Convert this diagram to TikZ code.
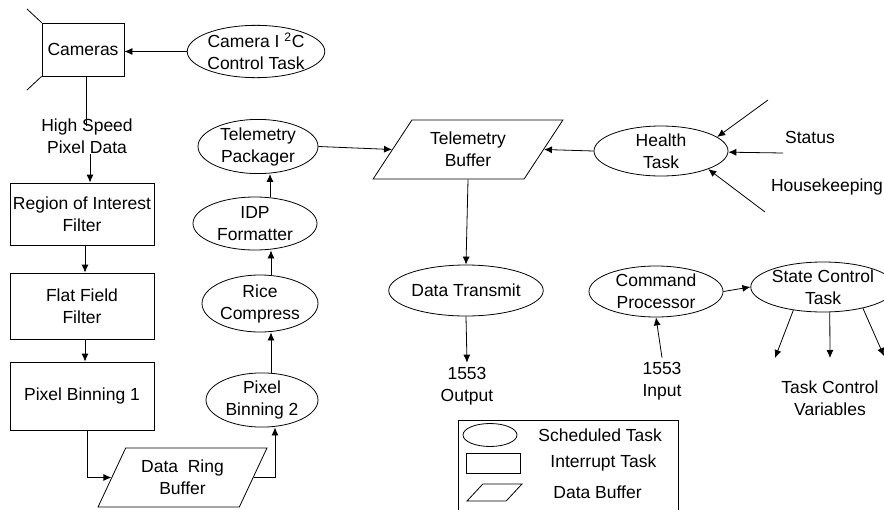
\documentclass[tikz,border=0pt]{standalone}
\usepackage{fontspec}
\setmainfont{Liberation Sans}
\usetikzlibrary{shapes.geometric,arrows.meta}
\begin{document}
\begin{tikzpicture}[x=1pt,y=-1pt,line width=0.8pt,
  every node/.style={font=\fontsize{17.5}{22}\selectfont,align=center,inner sep=0pt},
  task/.style={draw,ellipse},
  itask/.style={draw,rectangle},
  buf/.style={draw,trapezium,trapezium stretches=true},
  arr/.style={-{Latex[length=8pt,width=7pt]}}]
\useasboundingbox (0,0) rectangle (884,509);

% interrupt tasks
\node[itask,minimum width=82,minimum height=53] (cam) at (83,49.5) {Cameras};
\node[itask,minimum width=144,minimum height=62] (roi) at (82,214) {Region of Interest\\Filter};
\node[itask,minimum width=144,minimum height=66] (ff) at (82,306) {Flat Field\\Filter};
\node[itask,minimum width=144,minimum height=68] (pb1) at (82,396) {Pixel Binning 1};

% scheduled tasks
\node[task,minimum width=118,minimum height=49] (i2c) at (256,51.5) {Camera I \textsuperscript{2}C\\Control Task};
\node[task,minimum width=120,minimum height=43] (pack) at (258,146.5) {Telemetry\\Packager};
\node[task,minimum width=124,minimum height=53] (idp) at (255,223.5) {IDP\\Formatter};
\node[task,minimum width=116,minimum height=57] (rice) at (260,303.5) {Rice\\Compress};
\node[task,minimum width=112,minimum height=52] (pb2) at (262,400) {Pixel\\Binning 2};
\node[task,minimum width=136,minimum height=51] (dt) at (466,290.5) {Data Transmit};
\node[task,minimum width=134,minimum height=50] (ht) at (661,151) {Health\\Task};
\node[task,minimum width=134,minimum height=51] (cp) at (656,291.5) {Command\\Processor};
\node[task,minimum width=124,minimum height=50] (sct) at (823,287) {State Control\\Task};

% buffers
\node[buf,trapezium left angle=53,trapezium right angle=127,minimum width=190,minimum height=59] (tb) at (468,149.5) {Telemetry\\Buffer};
\node[buf,trapezium left angle=60,trapezium right angle=120,minimum width=169,minimum height=59] (drb) at (182.5,477.5) {Data\ \ Ring\\Buffer};

% plain labels
\node (hs) at (87,136) {High Speed\\Pixel Data};
\node (out) at (467,386) {1553\\Output};
\node (inp) at (662,381) {1553\\Input};
\node (tcv) at (830,398) {Task Control\\Variables};
\node (st) at (810,137) {Status};
\node (hk) at (827,187) {Housekeeping};

% free ends
\coordinate (c1) at (27,9);
\coordinate (c2) at (27,90);
\coordinate (col) at (271,0);
\coordinate (rcol) at (275,0);
\coordinate (h1) at (768,100);
\coordinate (h2) at (783,153);
\coordinate (h3) at (765,212);
\coordinate (v1) at (775,358);
\coordinate (v2) at (830,358);
\coordinate (v3) at (884,356);

% connectors
\draw (cam.north west) -- (c1);
\draw (cam.south west) -- (c2);
\draw[arr] (i2c.west) -- (cam.east |- i2c.west);
\draw ([xshift=3pt]cam.south) -- ([xshift=3pt,yshift=-8pt]cam.south |- hs.north);
\draw[arr] ([xshift=3pt]hs.south) -- ([xshift=3pt]hs.south |- roi.north);
\draw[arr] ([xshift=3pt]roi.south) -- ([xshift=3pt]ff.north);
\draw[arr] ([xshift=3pt]ff.south) -- ([xshift=3pt]pb1.north);
\draw[arr] ([xshift=5pt]pb1.south) |- (drb.west);
\draw[arr] (drb.east) -| (pb2.south -| rcol);
\draw[arr] (pb2.north -| col) -- (rice.south -| col);
\draw[arr] (rice.north -| col) -- (idp.south -| col);
\draw[arr] ([xshift=-1pt]idp.north -| col) -- ([xshift=-1pt]pack.south -| col);
\draw[arr] (pack.east) -- (tb.west);
\draw[arr] (ht.west) -- (tb.east);
\draw[arr] (tb.south) -- (dt.north);
\draw[arr] (dt.south) -- ([yshift=4pt]out.north);
\draw[arr] ([yshift=4pt]inp.north) -- (cp.south);
\draw[arr] (h1) -- (ht.14);
\draw[arr] (h2) -- (ht.-1);
\draw[arr] (h3) -- (ht.-21);
\draw[arr] (cp.east) -- (sct.west);
\draw[arr] (sct.-142) -- (v1);
\draw[arr] (sct.-75) -- (v2);
\draw[arr] (sct.-28) -- (v3);

% legend
\node[draw,rectangle,minimum width=220,minimum height=100] (leg) at (568,470) {};
\node[task,minimum width=54,minimum height=23] (lge) at (490,435) {};
\node[itask,minimum width=54,minimum height=20] (lgr) at (493,463) {};
\node[buf,inner sep=1pt,trapezium left angle=57,trapezium right angle=123,minimum width=55,minimum height=17] (lgp) at (494.5,492.5) {\phantom{x}};
\node[anchor=west] (lt1) at (538,435) {Scheduled Task};
\node[anchor=west] (lt2) at (550,463) {Interrupt Task};
\node[anchor=west] (lt3) at (553,492) {Data Buffer};
\end{tikzpicture}
\end{document}
